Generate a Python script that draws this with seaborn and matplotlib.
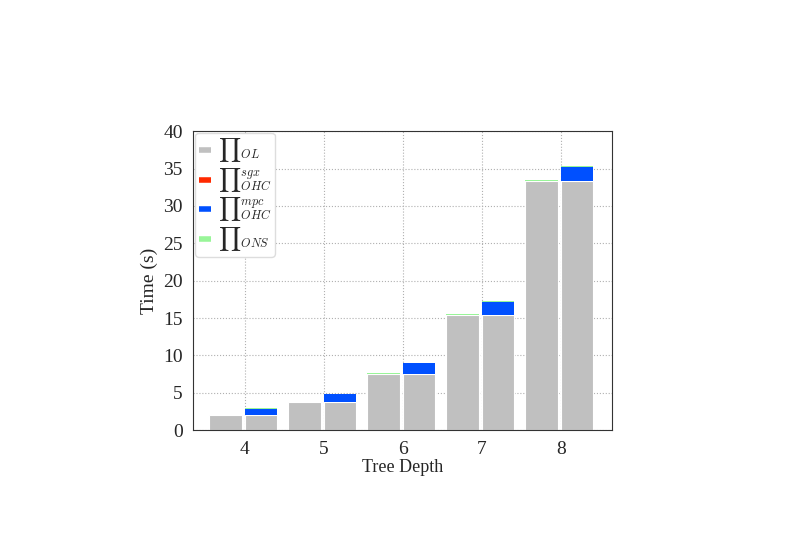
import numpy as np
import pandas as pd
import seaborn as sns
import matplotlib.pyplot as plt
from matplotlib.lines import Line2D

depths = [4, 5, 6, 7, 8]
ol = [2.0, 3.75, 7.5, 15.4, 33.3]
sgx = [0.02, 0.02, 0.03, 0.03, 0.04]
mpc = [0.85, 1.05, 1.4, 1.7, 1.85]
ons = [0.06, 0.08, 0.1, 0.12, 0.15]

sns.set_style("whitegrid", {"grid.linestyle": ":", "grid.color": "#b0b0b0",
                            "axes.edgecolor": "#333333"})
plt.rcParams['font.family'] = ['Liberation Serif', 'DejaVu Serif']
plt.rcParams['mathtext.fontset'] = 'cm'

c_ol, c_sgx, c_mpc, c_ons = '#c0c0c0', '#ff2a00', '#0050ff', '#99f599'

fig = plt.figure(figsize=(7.89, 5.58), dpi=100)
ax = fig.add_axes([0.245, 0.229, 0.531, 0.536])

x = np.array(depths, dtype=float)
w = 0.41
xl = x - 0.45
xr = x + 0.0

df = pd.DataFrame({'depth': depths, 'ol': ol, 'sgx': sgx, 'mpc': mpc, 'ons': ons})
ol_a = df['ol'].values
sgx_a = df['sgx'].values
mpc_a = df['mpc'].values
ons_a = df['ons'].values

kw = dict(width=w, align='edge', edgecolor='white', linewidth=0.8)
# left bars: OL + ONS
ax.bar(xl, ol_a, color=c_ol, **kw)
ax.bar(xl, ons_a, bottom=ol_a, color=c_ons, width=w, align='edge', linewidth=0)
# right bars: OL + sgx + mpc + ONS
ax.bar(xr, ol_a, color=c_ol, **kw)
ax.bar(xr, sgx_a, bottom=ol_a, color=c_sgx, width=w, align='edge', linewidth=0)
ax.bar(xr, mpc_a, bottom=ol_a + sgx_a, color=c_mpc, width=w, align='edge', linewidth=0)
ax.bar(xr, ons_a, bottom=ol_a + sgx_a + mpc_a, color=c_ons, width=w, align='edge', linewidth=0)

ax.set_xlim(3.35, 8.65)
ax.set_ylim(0, 40)
ax.set_xticks(depths)
ax.set_yticks(range(0, 41, 5))
ax.tick_params(axis='both', labelsize=14, length=4, color='#333333', direction='out')
ax.set_xlabel('Tree Depth', fontsize=13, labelpad=1)
ax.set_ylabel('Time (s)', fontsize=14, labelpad=4)
for s in ax.spines.values():
    s.set_linewidth(0.8)

handles = [Line2D([0], [0], color=c, lw=4, solid_capstyle='butt')
           for c in [c_ol, c_sgx, c_mpc, c_ons]]
labels = [r'$\prod{}_{OL}$', r'$\prod{}_{OHC}^{sgx}$', r'$\prod{}_{OHC}^{mpc}$', r'$\prod{}_{ONS}$']
leg = ax.legend(handles, labels, loc='upper left', fontsize=12.5, handlelength=0.7,
                handletextpad=0.4, borderpad=0.2, labelspacing=0.1,
                borderaxespad=0.1, framealpha=1, edgecolor='#dddddd')

fig.savefig('out.png', dpi=100)
